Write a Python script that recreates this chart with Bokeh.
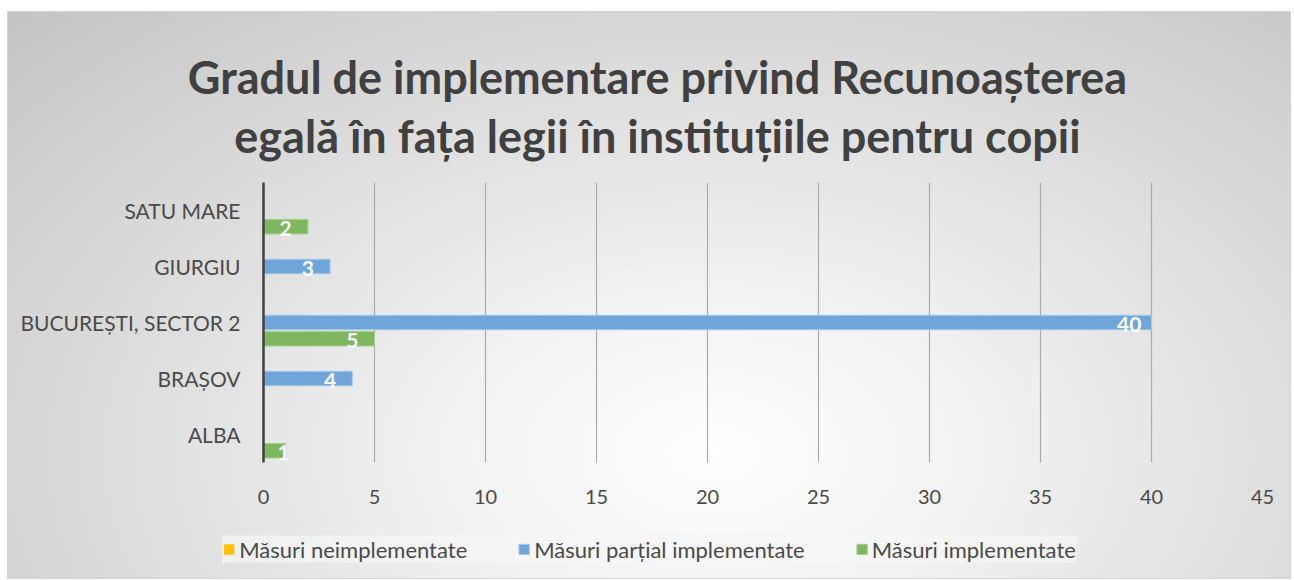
from bokeh.plotting import figure
from bokeh.models import (FactorRange, Range1d, ColumnDataSource, Label, Legend,
                          LegendItem, FixedTicker)
from bokeh.layouts import column
from bokeh.transform import dodge
from bokeh.embed import file_html
from bokeh.resources import INLINE
from bokeh.core.properties import value

# ---- data ----
categories = ["ALBA", "BRAȘOV", "BUCUREȘTI, SECTOR 2", "GIURGIU", "SATU MARE"]
series_names = ["Măsuri neimplementate", "Măsuri parțial implementate", "Măsuri implementate"]
neimplementate = [0, 0, 0, 0, 0]
partial_implementate = [0, 4, 40, 3, 0]
implementate = [1, 0, 5, 0, 2]
x_ticks = [0, 5, 10, 15, 20, 25, 30, 35, 40, 45]
title_lines = ["Gradul de implementare privind Recunoașterea",
               "egală în fața legii în instituțiile pentru copii"]

colors = ["#FFC000", "#6FA6DA", "#7EB75F"]
edge_colors = [None, "#A9CBEB", "#A8D08D"]
offsets = [0.29, 0.0, -0.29]
series_values = [neimplementate, partial_implementate, implementate]
FONT = "Lato"
TXT = "#4a4a4a"
W = 1282


def strip(fig):
    fig.background_fill_color = None
    fig.border_fill_color = None
    fig.outline_line_color = None
    fig.frame_align = False


# ---- title strip ----
pt = figure(width=W, height=170, x_range=Range1d(0, W), y_range=Range1d(170, 0),
            output_backend="svg", toolbar_location=None,
            min_border_left=0, min_border_right=0, min_border_top=0, min_border_bottom=0)
strip(pt)
pt.axis.visible = False
pt.grid.visible = False
for line, yy in zip(title_lines, [64, 123]):
    pt.add_layout(Label(x=649, y=yy, text=line, text_align="center",
                        text_baseline="alphabetic", text_font=FONT,
                        text_font_size="45px", text_font_style="bold",
                        text_color="#404040"))

# ---- main chart ----
p = figure(width=W, height=330, y_range=FactorRange(*categories),
           x_range=Range1d(0, 45), output_backend="svg", toolbar_location=None,
           min_border_left=255, min_border_right=28, min_border_top=0,
           min_border_bottom=50)
strip(p)

for vals, col, edge, off in zip(series_values, colors, edge_colors, offsets):
    src = ColumnDataSource(dict(cat=categories, val=vals))
    p.hbar(y=dodge("cat", off, range=p.y_range), right="val", left=0, height=0.26,
           source=src, fill_color=col, line_color=edge, line_width=1)
    # data labels (only for non-zero values)
    lc = [c for c, v in zip(categories, vals) if v > 0]
    lv = [v for v in vals if v > 0]
    lx = [max(v - 1.0, 0.9) for v in lv]
    if lv:
        lsrc = ColumnDataSource(dict(cat=lc, lx=lx, txt=[str(v) for v in lv]))
        p.text(x="lx", y=dodge("cat", off, range=p.y_range), text="txt", source=lsrc,
               text_color="white", text_font=value(FONT), text_font_style="bold",
               text_font_size="21px", text_align="center", text_baseline="middle",
               y_offset=2)

p.xaxis.ticker = FixedTicker(ticks=x_ticks)
p.xaxis.axis_line_color = None
p.xaxis.major_tick_line_color = None
p.xaxis.minor_tick_line_color = None
p.xaxis.major_label_standoff = 21
p.xaxis.major_label_text_font = FONT
p.xaxis.major_label_text_font_size = "20px"
p.xaxis.major_label_text_color = TXT

p.yaxis.axis_line_color = "#404040"
p.yaxis.axis_line_width = 2.5
p.yaxis.major_tick_line_color = None
p.yaxis.minor_tick_line_color = None
p.yaxis.major_label_standoff = 17
p.yaxis.major_label_text_font = FONT
p.yaxis.major_label_text_font_size = "21px"
p.yaxis.major_label_text_color = TXT

p.xgrid.ticker = FixedTicker(ticks=x_ticks)
p.xgrid.grid_line_color = "#ababab"
p.xgrid.grid_line_width = 1.2
p.ygrid.visible = False

# ---- legend strip ----
pl = figure(width=W, height=66, y_range=FactorRange(*categories), x_range=Range1d(0, 45),
            output_backend="svg", toolbar_location=None,
            min_border_left=0, min_border_right=0, min_border_top=8, min_border_bottom=0)
strip(pl)
pl.axis.visible = False
pl.grid.visible = False
leg_renderers = []
for vals, col, edge in zip(series_values, colors, edge_colors):
    r = pl.hbar(y=categories, right=vals, left=0, height=0.5,
                fill_color=col, line_color=edge, line_width=1)
    r.visible = False
    leg_renderers.append(r)
legend = Legend(items=[LegendItem(label=n, renderers=[r]) for n, r in zip(series_names, leg_renderers)],
                orientation="horizontal", location="center",
                background_fill_color="#f6f6f6", background_fill_alpha=0.7,
                border_line_color=None, padding=11, margin=0, spacing=50,
                glyph_width=13, glyph_height=13, label_standoff=4,
                inactive_fill_alpha=0,
                label_text_font=FONT, label_text_font_size="22px", label_text_color=TXT)
pl.add_layout(legend, "center")

layout = column(pt, p, pl, spacing=0, margin=(11, 0, 0, 7),
                styles={"background": "radial-gradient(ellipse farthest-corner at 55% 78%, #ffffff 0%, #f1f1f1 28%, #c4c4c4 100%)",
                        "border": "1px solid #d4d4d4"})

open("out.html", "w").write(file_html(layout, INLINE))
